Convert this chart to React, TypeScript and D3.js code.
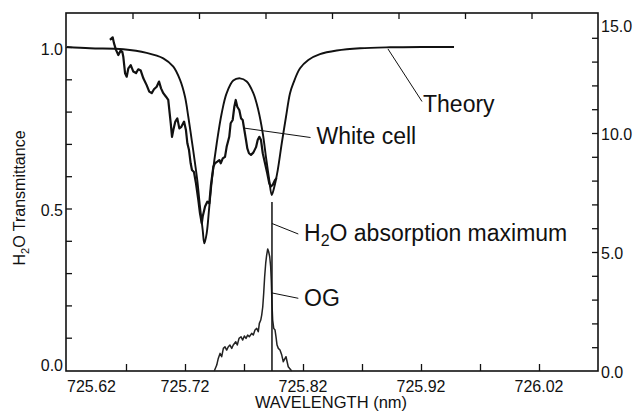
import React, { useEffect, useRef } from 'react'
import * as d3 from 'd3'

// Theory curve: wavelength (nm) / H2O transmittance
const theoryWl = [
    725.62, 725.6395, 725.6677, 725.6875, 725.7016, 725.7101, 725.7158, 725.72,
    725.7228, 725.7257, 725.7285, 725.7304, 725.7327, 725.735, 725.7364, 725.7384,
    725.7406, 725.7431, 725.7469, 725.7511, 725.7553, 725.7609, 725.7666, 725.7723,
    725.7779, 725.7821, 725.7859, 725.7886, 725.7914, 725.7935, 725.7957, 725.7986,
    725.802, 725.8056, 725.809, 725.8118, 725.8175, 725.8245, 725.8344, 725.8486,
    725.8683, 725.8937, 725.922, 725.948,
]
const theoryT = [
    1.0, 0.996, 0.993, 0.982, 0.965, 0.939, 0.898, 0.846, 0.784, 0.712, 0.64, 0.588,
    0.506, 0.433, 0.392, 0.424, 0.506, 0.598, 0.702, 0.795, 0.857, 0.896, 0.903,
    0.893, 0.857, 0.805, 0.733, 0.66, 0.588, 0.542, 0.567, 0.619, 0.702, 0.784,
    0.857, 0.888, 0.934, 0.96, 0.978, 0.989, 0.996, 0.999, 1.0, 1.0,
]

// White cell measurement
const whiteWl = [
    725.6564, 725.6587, 725.6598, 725.6615, 725.6635, 725.6655, 725.6669, 725.6677,
    725.6692, 725.6706, 725.672, 725.674, 725.6762, 725.6785, 725.6804, 725.6825,
    725.6847, 725.6875, 725.6897, 725.6918, 725.6937, 725.696, 725.698, 725.6997,
    725.7016, 725.7039, 725.7058, 725.7067, 725.7079, 725.709, 725.7101, 725.7118,
    725.7135, 725.7152, 725.7169, 725.7192, 725.7208, 725.722, 725.7234, 725.7248,
    725.7259, 725.7276, 725.7293, 725.7313, 725.7327, 725.7342, 725.735, 725.737,
    725.7389, 725.7406, 725.742, 725.744, 725.7454, 725.7474, 725.7491, 725.7503,
    725.752, 725.7539, 725.7553, 725.7575, 725.7587, 725.7604, 725.7618, 725.763,
    725.7643, 725.766, 725.7675, 725.7689, 725.7703, 725.7717, 725.7728, 725.7742,
    725.7759, 725.7779, 725.7802, 725.7816, 725.783, 725.7844, 725.7859, 725.7878,
    725.7897, 725.7914, 725.7926, 725.7943, 725.7963, 725.7977,
]
const whiteT = [
    1.022, 1.03, 1.012, 0.991, 0.975, 0.989, 0.985, 0.97, 0.919, 0.908, 0.934, 0.944,
    0.924, 0.919, 0.931, 0.927, 0.903, 0.882, 0.862, 0.857, 0.869, 0.877, 0.893,
    0.872, 0.857, 0.846, 0.836, 0.805, 0.764, 0.722, 0.743, 0.769, 0.779, 0.748,
    0.753, 0.769, 0.743, 0.702, 0.681, 0.64, 0.619, 0.613, 0.578, 0.526, 0.485,
    0.454, 0.475, 0.506, 0.521, 0.516, 0.573, 0.629, 0.64, 0.645, 0.65, 0.64, 0.655,
    0.66, 0.691, 0.722, 0.764, 0.774, 0.815, 0.836, 0.815, 0.805, 0.779, 0.774,
    0.743, 0.712, 0.686, 0.671, 0.666, 0.673, 0.69, 0.712, 0.722, 0.712, 0.671,
    0.64, 0.609, 0.578, 0.568, 0.573, 0.588, 0.594,
]

// OG signal (right axis)
const ogWl = [
    725.7448, 725.7469, 725.7482, 725.7497, 725.7511, 725.7525, 725.7539, 725.7553,
    725.7567, 725.7581, 725.7596, 725.7609, 725.763, 725.7643, 725.7658, 725.7675,
    725.7689, 725.7703, 725.7717, 725.7731, 725.7745, 725.7765, 725.7779, 725.7793,
    725.7808, 725.7821, 725.783, 725.7842, 725.785, 725.7859, 725.7867, 725.7875,
    725.7884, 725.7892, 725.7901, 725.7909, 725.7918, 725.7926, 725.7931, 725.7937,
    725.7943, 725.7952, 725.7963, 725.7971, 725.798, 725.7991, 725.8005, 725.802,
    725.8033, 725.8056, 725.8075, 725.8104,
]
const ogSignal = [
    0, 0.25, 0.53, 0.74, 0.6, 0.95, 1.02, 0.88, 1.02, 1.09, 0.95, 1.09, 1.23, 1.09,
    1.37, 1.44, 1.3, 1.47, 1.37, 1.51, 1.44, 1.58, 1.51, 1.72, 1.79, 1.65, 2.0,
    2.14, 2.35, 2.7, 3.27, 3.96, 4.53, 4.87, 5.13, 5.01, 4.8, 4.38, 3.82, 2.85,
    2.14, 1.79, 1.72, 1.44, 1.09, 0.95, 0.88, 0.67, 0.39, 0.6, 0.18, 0,
]

const absorptionMaxWl = 725.7937
const absorptionLineTop = 0.52

const xTicks = [725.67, 725.72, 725.77, 725.82, 725.87, 725.92, 725.97, 726.02]
const xLabels = [725.62, 725.72, 725.82, 725.92, 726.02]
const topTicks = [1, 2, 3, 4, 5, 6, 7]
const leftTicks = [0.1, 0.2, 0.3, 0.4, 0.5, 0.6, 0.7, 0.8, 0.9, 1.0]
const leftLabels = [0, 0.5, 1.0]
const rightTicks = [1, 2, 3, 4, 5, 6, 7, 8, 9, 10, 11, 12, 13, 14]
const rightLabels = [0, 5, 10, 15]

const FONT = "'Liberation Sans', Arial, Helvetica, sans-serif"

const App: React.FC = () => {
    const svgRef = useRef<SVGSVGElement | null>(null)

    useEffect(() => {
        if (!svgRef.current) return
        const root = d3.select(svgRef.current)
        root.selectAll('*').remove()

        const left = 66
        const right = 598
        const top = 13
        const bottom = 371

        const x = d3.scaleLinear().domain([725.62, 726.07]).range([67, 598])
        const xTop = d3.scaleLinear().domain([0, 8]).range([left, right])
        const yL = d3.scaleLinear().domain([0, 1]).range([370, 47])
        const yR = d3.scaleLinear().domain([0, 15]).range([bottom, 14])

        const svg = root.append('g').attr('font-family', FONT).attr('fill', '#111')

        // frame
        svg.append('rect')
            .attr('x', left)
            .attr('y', top)
            .attr('width', right - left)
            .attr('height', bottom - top)
            .attr('fill', 'none')
            .attr('stroke', '#111')
            .attr('stroke-width', 1.6)

        // inward ticks
        const styleTicks = (g) => {
            g.select('.domain').remove()
            g.selectAll('text').remove()
            g.selectAll('line').attr('stroke', '#111').attr('stroke-width', 1.3)
        }
        svg.append('g')
            .attr('transform', `translate(0,${bottom})`)
            .call(d3.axisBottom(x).tickValues(xTicks).tickSize(-7))
            .call(styleTicks)
        svg.append('g')
            .attr('transform', `translate(0,${top})`)
            .call(d3.axisTop(xTop).tickValues(topTicks).tickSize(-6))
            .call(styleTicks)
        svg.append('g')
            .attr('transform', `translate(${left},0)`)
            .call(d3.axisLeft(yL).tickValues(leftTicks).tickSize(-6))
            .call(styleTicks)
        svg.append('g')
            .attr('transform', `translate(${right},0)`)
            .call(d3.axisRight(yR).tickValues(rightTicks).tickSize(-6))
            .call(styleTicks)

        // tick labels (first one sits flush with the frame)
        svg.selectAll('text.xl')
            .data(xLabels)
            .enter()
            .append('text')
            .attr('class', 'xl')
            .attr('x', (d) => x(d))
            .attr('y', 392)
            .attr('text-anchor', (d, i) => (i === 0 ? 'start' : 'middle'))
            .attr('font-size', 16)
            .text((d) => d.toFixed(2))

        svg.selectAll('text.yl')
            .data(leftLabels)
            .enter()
            .append('text')
            .attr('class', 'yl')
            .attr('x', 63)
            .attr('y', (d) => (d === 0 ? yL(d) + 0.5 : yL(d) + 7.5))
            .attr('text-anchor', 'end')
            .attr('font-size', 16)
            .text((d) => d.toFixed(1))

        svg.selectAll('text.yr')
            .data(rightLabels)
            .enter()
            .append('text')
            .attr('class', 'yr')
            .attr('x', 601)
            .attr('y', (d) => (d === 15 ? yR(d) + 17.5 : yR(d) + 6.5))
            .attr('font-size', 16)
            .text((d) => d.toFixed(1))

        // axis titles
        svg.append('text')
            .attr('x', 331)
            .attr('y', 407.5)
            .attr('text-anchor', 'middle')
            .attr('font-size', 16.5)
            .text('WAVELENGTH (nm)')

        const yTitle = svg.append('text')
            .attr('transform', 'translate(25,198) rotate(-90)')
            .attr('text-anchor', 'middle')
            .attr('font-size', 16)
        yTitle.append('tspan').text('H')
        yTitle.append('tspan').attr('font-size', 11).attr('dy', 4).text('2')
        yTitle.append('tspan').attr('dy', -4).text('O Transmittance')

        // curves
        const lineL = d3
            .line<[number, number]>()
            .x((d) => x(d[0]))
            .y((d) => yL(d[1]))

        svg.append('path')
            .datum(d3.zip(theoryWl, theoryT))
            .attr('d', lineL.curve(d3.curveCatmullRom.alpha(0.5)))
            .attr('fill', 'none')
            .attr('stroke', '#111')
            .attr('stroke-width', 1.9)

        svg.append('path')
            .datum(d3.zip(whiteWl, whiteT))
            .attr('d', lineL.curve(d3.curveLinear))
            .attr('fill', 'none')
            .attr('stroke', '#111')
            .attr('stroke-width', 2.2)
            .attr('stroke-linejoin', 'round')

        const lineR = d3
            .line<[number, number]>()
            .x((d) => x(d[0]))
            .y((d) => yR(d[1]))

        svg.append('path')
            .datum(d3.zip(ogWl, ogSignal))
            .attr('d', lineR)
            .attr('fill', 'none')
            .attr('stroke', '#222')
            .attr('stroke-width', 1.5)
            .attr('stroke-linejoin', 'round')

        // H2O absorption maximum marker
        svg.append('line')
            .attr('x1', x(absorptionMaxWl))
            .attr('x2', x(absorptionMaxWl))
            .attr('y1', yL(absorptionLineTop))
            .attr('y2', bottom)
            .attr('stroke', '#111')
            .attr('stroke-width', 1.5)

        // annotations with leader lines
        const leaders = [
            { from: [x(725.892), yL(0.994)], to: [422, 101.5] },
            { from: [x(725.77), yL(0.749)], to: [310.5, 137.5] },
            { from: [x(absorptionMaxWl), yL(0.4536)], to: [298.3, 234] },
            { from: [x(absorptionMaxWl), yR(3.28)], to: [298.3, 298.3] },
        ]
        svg.selectAll('line.leader')
            .data(leaders)
            .enter()
            .append('line')
            .attr('class', 'leader')
            .attr('x1', (d) => d.from[0])
            .attr('y1', (d) => d.from[1])
            .attr('x2', (d) => d.to[0])
            .attr('y2', (d) => d.to[1])
            .attr('stroke', '#111')
            .attr('stroke-width', 1)

        svg.append('text').attr('x', 423).attr('y', 111.5).attr('font-size', 23).text('Theory')
        svg.append('text').attr('x', 316.5).attr('y', 143.5).attr('font-size', 23).text('White cell')
        const h2o = svg.append('text').attr('x', 304).attr('y', 240.7).attr('font-size', 23)
        h2o.append('tspan').text('H')
        h2o.append('tspan').attr('font-size', 16).attr('dy', 5).text('2')
        h2o.append('tspan').attr('dy', -5).text('O absorption maximum')
        svg.append('text').attr('x', 304).attr('y', 306).attr('font-size', 23).text('OG')
    }, [])

    return (
        <svg
            ref={svgRef}
            width={637}
            height={411}
            style={{ position: 'absolute', left: 0, top: 0, background: '#fff' }}
        ></svg>
    )
}

export default App
